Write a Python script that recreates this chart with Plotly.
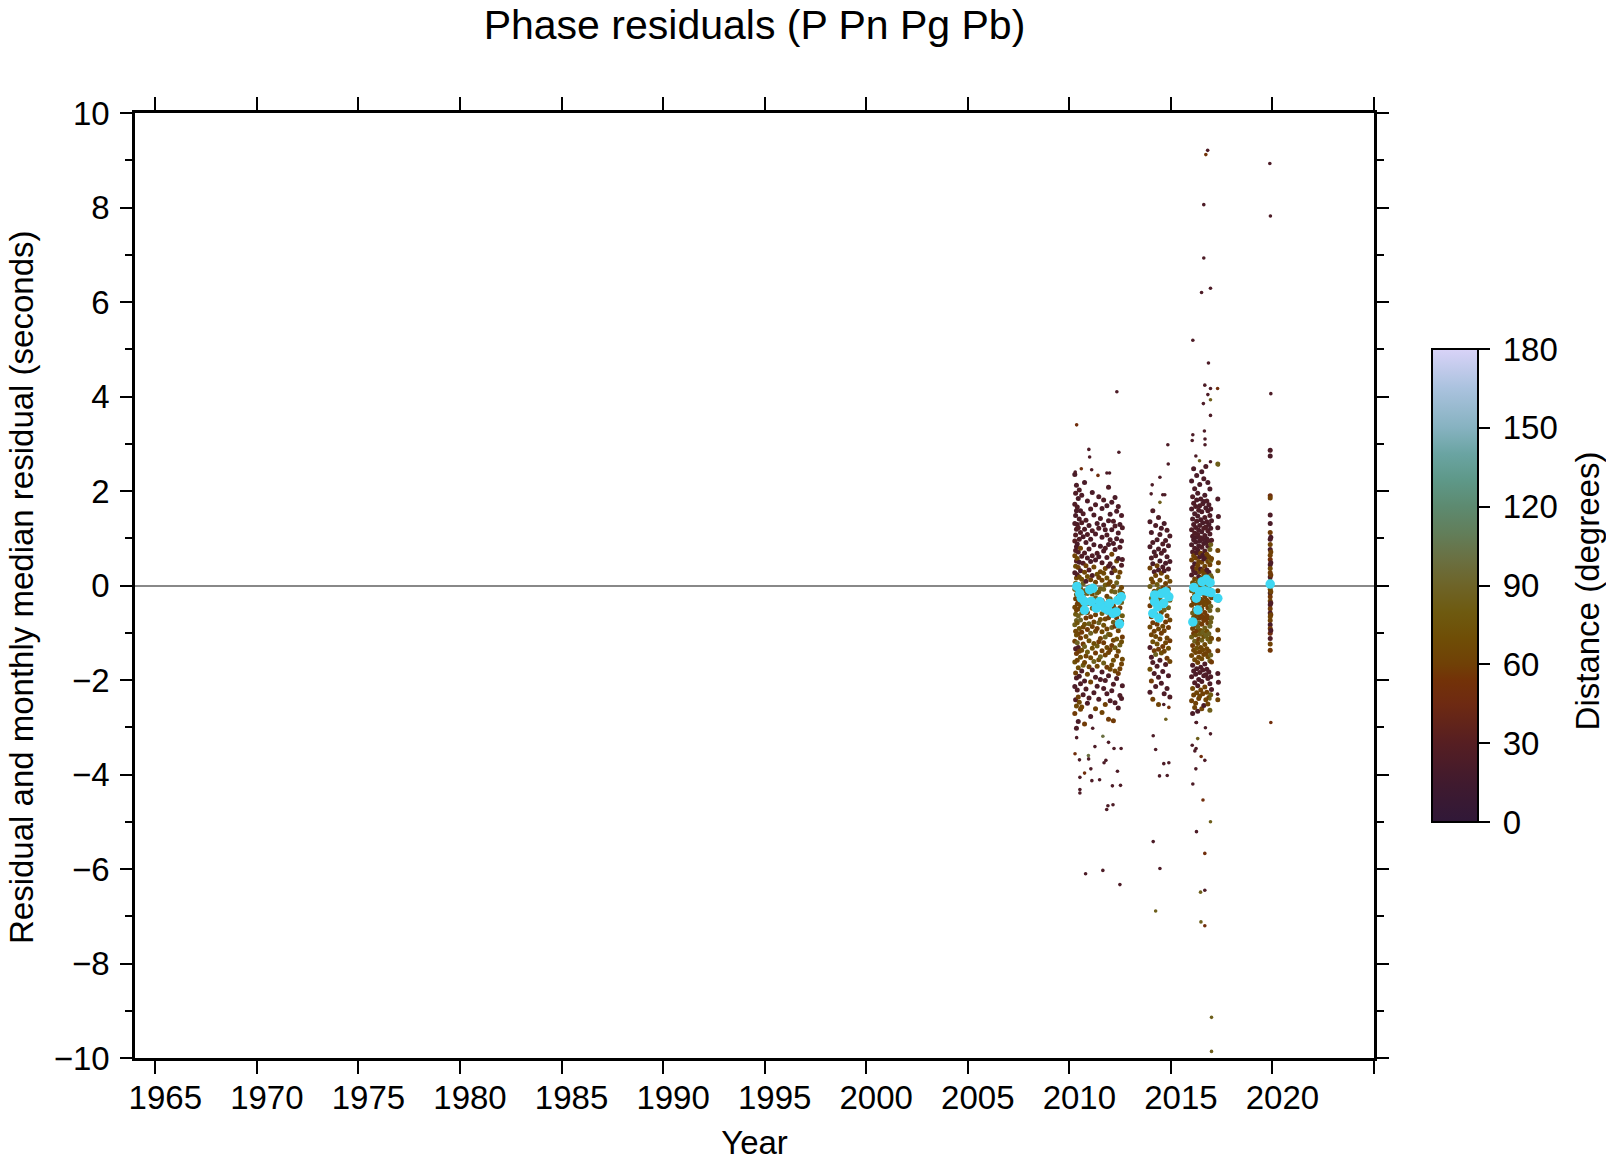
import plotly.graph_objects as go

# ---------------- data ----------------
# Cluster 1 (2010-2012): event times, residuals per event, distances per pick
c1_time = [2010.27, 2010.31, 2010.35, 2010.39, 2010.44, 2010.49, 2010.55, 2010.61, 2010.68, 2010.75,
           2010.82, 2010.89, 2010.97, 2011.05, 2011.13, 2011.21, 2011.29, 2011.37, 2011.45, 2011.53,
           2011.61, 2011.69, 2011.77, 2011.85, 2011.93, 2012.01, 2012.09, 2012.17, 2012.25, 2012.33,
           2012.41, 2012.49, 2012.57, 2012.61]
c1_res = [
    [2.35, 1.72, 1.31, 0.94, 0.63, 0.27, -0.08, -0.46, -0.83, -1.18, -1.62, -2.14, -2.71],
    [1.95, 1.48, 1.07, 0.74, 0.41, 0.05, -0.28, -0.61, -0.97, -1.34, -1.85, -2.42],
    [2.12, 1.58, 1.19, 0.82, 0.52, 0.16, -0.19, -0.52, -0.74, -1.05, -1.44, -1.96, -2.55, -3.02],
    [1.66, 1.29, 0.88, 0.57, 0.23, -0.12, -0.39, -0.79, -1.21, -1.58, -2.21],
    [1.84, 1.22, 0.71, 0.38, 0.02, -0.33, -0.64, -1.02, -1.31, -1.74, -2.36, -2.88],
    [2.02, 1.41, 0.98, 0.49, 0.18, -0.22, -0.49, -0.91, -1.39, -1.92, -2.47],
    [1.58, 1.12, 0.79, 0.31, -0.06, -0.42, -0.73, -1.11, -1.52, -2.08, -2.62],
    [1.91, 1.33, 0.62, 0.13, -0.27, -0.58, -0.99, -1.37, -1.81, -2.57],
    [1.52, 1.03, 0.47, 0.04, -0.21, -0.53, -0.88, -1.24, -1.69, -2.31],
    [2.18, 1.19, 0.69, 0.28, -0.11, -0.44, -0.82, -1.29, -1.63, -2.02, -2.93],
    [1.38, 0.91, 0.42, 0.09, -0.31, -0.69, -1.08, -1.49, -2.19],
    [1.79, 1.08, 0.58, 0.19, -0.17, -0.57, -0.93, -1.41, -1.88, -2.49],
    [1.27, 0.77, 0.33, -0.03, -0.38, -0.81, -1.17, -1.72, -2.38],
    [1.62, 0.98, 0.51, 0.12, -0.29, -0.66, -1.01, -1.53, -2.04, -2.77],
    [1.97, 1.16, 0.63, 0.21, -0.18, -0.48, -0.87, -1.33, -1.79],
    [1.49, 0.86, 0.39, -0.09, -0.41, -0.77, -1.23, -1.61, -2.27],
    [1.71, 1.09, 0.54, 0.07, -0.26, -0.62, -0.97, -1.43, -1.94, -2.61],
    [1.31, 0.68, 0.24, -0.16, -0.51, -0.91, -1.28, -1.71, -2.13],
    [1.88, 1.21, 0.61, 0.17, -0.13, -0.46, -0.79, -1.19, -1.57, -2.41],
    [1.42, 0.83, 0.29, -0.07, -0.37, -0.72, -1.12, -1.51, -1.99],
    [1.63, 1.02, 0.48, 0.11, -0.32, -0.59, -0.98, -1.38, -1.83, -2.69],
    [1.81, 1.28, 0.73, 0.26, -0.08, -0.47, -0.84, -1.21, -1.64, -2.18],
    [1.18, 0.79, 0.36, 0.01, -0.39, -0.71, -1.09, -1.47, -2.01, -2.52],
    [1.69, 1.07, 0.59, 0.16, -0.23, -0.56, -0.92, -1.31, -1.73, -2.29],
    [2.08, 1.37, 0.87, 0.41, 0.03, -0.31, -0.68, -1.03, -1.42, -1.91, -2.83],
    [1.51, 0.97, 0.46, 0.08, -0.28, -0.63, -1.04, -1.36, -1.77, -2.44],
    [1.76, 1.18, 0.66, 0.27, -0.12, -0.52, -0.89, -1.27, -1.68, -2.23],
    [1.36, 0.89, 0.37, -0.02, -0.43, -0.78, -1.16, -1.58, -2.09, -2.86],
    [1.86, 1.26, 0.76, 0.32, -0.14, -0.49, -0.86, -1.32, -1.81, -2.48],
    [1.57, 0.99, 0.52, 0.06, -0.33, -0.69, -1.13, -1.49, -1.97],
    [1.67, 1.11, 0.57, 0.18, -0.24, -0.61, -0.96, -1.39, -1.86, -2.59],
    [1.29, 0.81, 0.28, -0.11, -0.47, -0.86, -1.26, -1.76, -2.33],
    [1.48, 0.94, 0.43, -0.04, -0.36, -0.76, -1.19, -1.66, -2.39],
    [1.22, 0.55, -0.17, -0.64, -1.09, -1.56, -2.12],
]
c1_dist = [
    [22, 25, 24, 30, 62, 24, 80, 64, 85, 60, 72, 24, 58],
    [25, 22, 28, 25, 70, 86, 60, 78, 64, 24, 60, 26],
    [24, 22, 26, 24, 28, 65, 84, 62, 90, 70, 58, 25, 66, 24],
    [26, 24, 22, 66, 25, 82, 60, 74, 88, 62, 25],
    [22, 28, 25, 62, 78, 58, 86, 64, 25, 70, 60, 22],
    [25, 24, 26, 22, 64, 84, 60, 72, 58, 24, 66],
    [22, 25, 60, 24, 80, 62, 90, 58, 70, 25, 60],
    [24, 26, 25, 70, 62, 84, 58, 66, 24, 62],
    [25, 22, 28, 86, 60, 72, 64, 58, 80, 25],
    [22, 24, 25, 64, 84, 60, 70, 86, 62, 24, 58],
    [25, 24, 60, 22, 78, 58, 66, 62, 25],
    [24, 26, 22, 70, 86, 62, 58, 80, 64, 24],
    [22, 25, 28, 64, 60, 84, 70, 62, 25],
    [25, 24, 22, 60, 80, 58, 88, 64, 62, 24],
    [22, 25, 26, 24, 66, 84, 60, 72, 25],
    [24, 22, 64, 80, 58, 62, 70, 86, 24],
    [25, 24, 22, 62, 84, 60, 66, 58, 25, 60],
    [22, 26, 70, 86, 62, 58, 80, 64, 24],
    [24, 25, 22, 60, 78, 62, 90, 58, 66, 25],
    [25, 22, 64, 84, 60, 70, 62, 86, 24],
    [22, 24, 26, 62, 58, 80, 66, 60, 25, 62],
    [25, 22, 24, 66, 86, 60, 72, 58, 84, 24],
    [24, 25, 62, 80, 58, 64, 88, 62, 25, 60],
    [22, 26, 24, 70, 60, 84, 62, 66, 58, 24],
    [25, 24, 22, 28, 64, 80, 60, 86, 62, 24, 58],
    [22, 25, 26, 62, 84, 58, 70, 60, 64, 25],
    [24, 22, 60, 25, 80, 62, 88, 58, 66, 24],
    [25, 24, 22, 64, 60, 84, 62, 70, 25, 58],
    [22, 25, 24, 62, 86, 60, 58, 80, 64, 24],
    [24, 22, 66, 84, 62, 58, 72, 60, 25],
    [25, 24, 22, 70, 60, 86, 62, 64, 58, 24],
    [22, 26, 62, 80, 58, 64, 84, 60, 25],
    [24, 22, 25, 64, 86, 60, 70, 62, 24],
    [25, 24, 62, 80, 58, 66, 24],
]

# Cluster 2 (2014-2015)
c2_time = [2013.97, 2014.04, 2014.11, 2014.18, 2014.25, 2014.32, 2014.39, 2014.46, 2014.53, 2014.60,
           2014.67, 2014.74, 2014.81, 2014.88, 2014.95]
c2_res = [
    [1.35, 0.82, 0.37, -0.02, -0.43, -0.88, -1.31, -1.77, -2.26],
    [1.12, 0.58, 0.14, -0.27, -0.66, -1.04, -1.52, -2.02],
    [1.58, 0.91, 0.46, 0.07, -0.34, -0.79, -1.19, -1.63, -2.41],
    [0.71, 0.29, -0.12, -0.54, -0.97, -1.38, -1.86],
    [1.27, 0.63, 0.21, -0.19, -0.61, -1.08, -1.46, -2.14],
    [0.97, 0.42, 0.02, -0.38, -0.82, -1.24, -1.71],
    [1.44, 0.77, 0.33, -0.08, -0.49, -0.92, -1.35, -1.94, -2.52],
    [1.08, 0.52, 0.11, -0.29, -0.71, -1.13, -1.58],
    [1.21, 0.68, 0.26, -0.16, -0.57, -1.01, -1.43, -2.07],
    [0.88, 0.39, -0.05, -0.44, -0.86, -1.29, -1.82],
    [1.31, 0.74, 0.31, -0.11, -0.52, -0.96, -1.39, -2.29],
    [0.95, 0.47, 0.04, -0.36, -0.77, -1.21, -1.67],
    [1.17, 0.61, 0.18, -0.23, -0.64, -1.11, -1.54, -2.18],
    [0.84, 0.35, -0.07, -0.47, -0.89, -1.33, -1.91],
    [1.05, 0.51, 0.09, -0.31, -0.73, -1.17, -1.61, -2.36],
]
c2_dist = [
    [24, 22, 60, 82, 58, 64, 25, 70, 24],
    [22, 25, 66, 84, 60, 62, 24, 58],
    [25, 24, 22, 62, 86, 58, 70, 25, 60],
    [22, 24, 64, 80, 60, 58, 24],
    [24, 25, 62, 84, 58, 66, 88, 25],
    [22, 60, 80, 62, 58, 70, 24],
    [25, 24, 22, 86, 60, 64, 58, 24, 62],
    [24, 22, 64, 82, 58, 62, 25],
    [22, 25, 60, 84, 62, 58, 70, 24],
    [25, 24, 62, 80, 64, 58, 24],
    [22, 24, 25, 66, 86, 60, 62, 24],
    [24, 22, 60, 84, 58, 64, 25],
    [25, 24, 64, 80, 60, 62, 58, 24],
    [22, 25, 62, 86, 58, 70, 24],
    [24, 22, 66, 80, 62, 58, 64, 25],
]

# Cluster 3 (2016-2017)
c3_time = [2016.02, 2016.07, 2016.12, 2016.17, 2016.22, 2016.27, 2016.32, 2016.37, 2016.42, 2016.47,
           2016.52, 2016.57, 2016.62, 2016.67, 2016.72, 2016.77, 2016.82, 2016.87, 2016.92, 2016.96,
           2017.00, 2017.31, 2017.34]
c3_res = [
    [2.21, 1.62, 1.18, 0.86, 0.54, 0.22, -0.11, -0.42, -0.76, -1.09, -1.48, -1.93, -2.44],
    [1.88, 1.41, 1.04, 0.71, 0.38, 0.06, -0.27, -0.58, -0.91, -1.27, -1.69, -2.18, -2.71],
    [2.47, 1.74, 1.29, 0.97, 0.63, 0.31, -0.02, -0.34, -0.67, -1.01, -1.37, -1.81, -2.32],
    [2.05, 1.52, 1.11, 0.79, 0.46, 0.14, -0.19, -0.51, -0.84, -1.18, -1.57, -2.06, -2.58],
    [1.67, 1.23, 0.92, 0.58, 0.27, -0.06, -0.38, -0.71, -1.05, -1.42, -1.88, -2.49],
    [2.33, 1.81, 1.36, 1.02, 0.69, 0.36, 0.03, -0.31, -0.63, -0.96, -1.33, -1.76, -2.27],
    [1.95, 1.47, 1.08, 0.75, 0.43, 0.11, -0.23, -0.55, -0.88, -1.23, -1.63, -2.12, -2.66],
    [1.59, 1.17, 0.84, 0.51, 0.19, -0.14, -0.46, -0.79, -1.14, -1.52, -1.99, -2.39],
    [2.14, 1.69, 1.27, 0.94, 0.61, 0.29, -0.04, -0.37, -0.69, -1.03, -1.41, -1.84, -2.34],
    [1.83, 1.39, 1.01, 0.68, 0.35, 0.02, -0.29, -0.62, -0.95, -1.31, -1.73, -2.21],
    [2.41, 1.56, 1.14, 0.81, 0.49, 0.16, -0.17, -0.49, -0.82, -1.16, -1.55, -2.03, -2.61],
    [1.73, 1.33, 0.98, 0.64, 0.32, -0.01, -0.33, -0.66, -0.99, -1.36, -1.79, -2.29],
    [2.26, 1.78, 1.21, 0.89, 0.56, 0.24, -0.09, -0.41, -0.74, -1.08, -1.46, -1.91, -2.54],
    [1.91, 1.44, 1.06, 0.73, 0.41, 0.08, -0.24, -0.57, -0.90, -1.25, -1.66, -2.15],
    [2.52, 1.64, 1.24, 0.91, 0.59, 0.26, -0.07, -0.39, -0.72, -1.06, -1.44, -1.89, -2.42],
    [1.79, 1.35, 0.99, 0.66, 0.33, 0.01, -0.31, -0.64, -0.97, -1.34, -1.77, -2.26],
    [2.18, 1.58, 1.16, 0.83, 0.51, 0.18, -0.14, -0.47, -0.80, -1.13, -1.51, -1.97, -2.51],
    [1.71, 1.29, 0.94, 0.61, 0.28, -0.04, -0.36, -0.69, -1.02, -1.39, -1.83, -2.37],
    [2.04, 1.48, 1.09, 0.76, 0.44, 0.12, -0.21, -0.53, -0.86, -1.19, -1.59, -2.08, -2.64],
    [1.62, 1.21, 0.87, 0.53, 0.21, -0.12, -0.44, -0.77, -1.11, -1.47, -1.93, -2.31],
    [1.37, 0.96, 0.57, 0.17, -0.26, -0.68, -1.12, -1.62, -2.20],
    [2.57, 1.83, 1.22, 0.74, 0.31, -0.11, -0.52, -0.94, -1.38, -1.86, -2.42],
    [1.46, 0.48, -0.31, -1.14, -2.05],
]
c3_dist = [
    [22, 24, 25, 22, 60, 24, 80, 62, 58, 84, 64, 25, 60],
    [25, 22, 24, 26, 28, 70, 62, 86, 60, 58, 24, 66, 22],
    [22, 25, 24, 22, 62, 25, 84, 60, 72, 58, 62, 24, 60],
    [24, 22, 26, 24, 22, 64, 80, 62, 58, 86, 66, 25, 62],
    [25, 24, 22, 60, 25, 82, 62, 58, 70, 64, 24, 60],
    [22, 24, 25, 22, 26, 62, 86, 60, 64, 58, 72, 24, 62],
    [24, 22, 25, 24, 60, 80, 62, 58, 84, 66, 60, 25, 22],
    [25, 24, 22, 62, 25, 70, 60, 86, 58, 64, 24, 60],
    [22, 25, 24, 22, 24, 64, 84, 62, 58, 80, 60, 25, 62],
    [24, 22, 25, 60, 22, 86, 62, 58, 70, 64, 24, 60],
    [22, 24, 22, 25, 62, 70, 80, 60, 58, 84, 66, 24, 62],
    [25, 22, 24, 22, 60, 84, 62, 58, 86, 64, 25, 60],
    [24, 22, 25, 24, 22, 64, 80, 62, 58, 70, 60, 24, 22],
    [22, 25, 24, 26, 62, 86, 60, 58, 84, 66, 24, 60],
    [24, 22, 25, 22, 24, 62, 80, 64, 58, 86, 60, 25, 62],
    [25, 24, 22, 60, 25, 84, 62, 58, 70, 64, 24, 60],
    [22, 24, 25, 24, 62, 70, 86, 60, 58, 80, 66, 25, 62],
    [24, 22, 25, 62, 22, 84, 62, 58, 86, 60, 24, 60],
    [22, 25, 24, 86, 60, 88, 80, 84, 90, 82, 86, 24, 84],
    [24, 22, 84, 82, 86, 80, 88, 84, 82, 86, 24, 80],
    [22, 25, 62, 84, 60, 86, 64, 58, 24],
    [84, 24, 22, 62, 80, 60, 86, 64, 58, 24, 62],
    [24, 62, 84, 60, 25],
]

# Cluster 4 (late 2019)
c4_time = [2019.89, 2019.92]
c4_res = [
    [2.86, 2.74, 1.90, 1.85, 1.49, 1.31, 1.12, 0.98, 0.87, 0.76, 0.64, 0.55, 0.44, 0.36, 0.27, 0.18,
     0.09, 0.01, -0.08, -0.16, -0.24, -0.33, -0.41, -0.49, -0.58, -0.66, -0.74, -0.83, -0.91, -1.01,
     -1.12, -1.24, -1.37],
    [1.02, 0.71, 0.48, 0.22, -0.13, -0.37, -0.62, -0.95],
]
c4_dist = [
    [24, 22, 48, 60, 24, 22, 58, 25, 62, 24, 60, 52, 22, 64, 58, 25, 62, 24, 60, 22, 56, 62, 25, 58,
     24, 64, 60, 22, 58, 48, 25, 62, 56],
    [22, 60, 24, 58, 62, 25, 60, 24],
]

# Isolated picks (outliers)
out_year = [2016.81, 2016.72, 2019.87, 2016.62, 2019.90, 2016.62, 2016.95, 2016.51, 2016.08, 2016.85,
            2016.67, 2016.95, 2017.30, 2012.34, 2019.92, 2016.82, 2016.95, 2016.60, 2016.95, 2010.36,
            2010.96, 2011.00, 2012.44, 2011.10, 2010.59, 2011.85, 2011.98, 2011.41, 2010.29, 2014.85,
            2014.87, 2014.46, 2014.08, 2014.60, 2014.70, 2014.03, 2014.46, 2016.08, 2016.65, 2016.68,
            2016.68, 2016.05, 2016.23, 2016.41, 2016.95, 2017.33,
            2010.36, 2010.28, 2010.50, 2010.95, 2011.06, 2010.52, 2010.75, 2011.11, 2011.49, 2010.52,
            2010.52, 2012.12, 2012.52, 2012.37, 2011.90, 2012.15, 2011.84, 2010.80, 2011.65, 2012.49,
            2011.65, 2011.93, 2012.20, 2012.55, 2011.26, 2010.94, 2011.71, 2011.80, 2011.15, 2014.13,
            2014.25, 2014.65, 2014.90, 2014.44, 2014.13, 2014.46, 2014.25, 2014.75, 2014.65, 2014.90,
            2016.24, 2016.26, 2016.32, 2016.05, 2016.24, 2016.18, 2016.67, 2016.49, 2016.23, 2016.08,
            2016.58, 2016.95, 2016.26, 2016.67, 2016.67, 2016.46, 2016.48, 2016.67, 2017.00, 2017.00,
            2016.70, 2016.95, 2016.92, 2017.30, 2019.92, 2014.82]
out_res = [9.21, 9.12, 8.93, 8.06, 7.82, 6.93, 6.29, 6.20, 5.19, 4.71,
           4.24, 4.17, 4.17, 4.10, 4.06, 4.04, 3.93, 3.85, 3.60, 3.40,
           2.88, 2.72, 2.82, 2.45, 2.47, 2.38, 2.38, 2.33, 2.40, 2.98,
           2.57, 2.29, 2.13, 1.92, 1.92, 1.94, 1.76, 3.19, 3.27, 3.10,
           2.98, 3.07, 2.74, 2.64, 2.62, 2.55,
           -3.22, -3.56, -3.69, -3.67, -3.88, -4.06, -3.97, -4.13, -4.11, -4.32,
           -4.39, -4.24, -4.23, -3.93, -4.66, -4.64, -4.74, -6.10, -6.03, -6.33,
           -3.19, -3.32, -3.45, -3.45, -3.41, -3.60, -3.75, -3.70, -3.02, -3.18,
           -3.47, -3.77, -3.75, -4.03, -5.42, -5.99, -6.89, -2.83, -2.52, -2.58,
           -2.90, -2.90, -3.24, -3.38, -3.45, -3.50, -3.70, -3.62, -3.88, -4.20,
           -4.54, -5.00, -5.21, -5.67, -6.45, -6.49, -7.12, -7.20, -9.14, -9.86,
           -3.01, -3.14, -2.40, -2.30, -2.90, -4.02]
out_dist = [24, 55, 24, 24, 24, 24, 24, 24, 24, 24,
            24, 24, 50, 24, 24, 24, 85, 24, 24, 50,
            24, 24, 24, 24, 50, 24, 24, 50, 24, 24,
            24, 24, 24, 24, 24, 24, 85, 24, 24, 24,
            24, 24, 24, 85, 24, 85,
            24, 50, 24, 24, 24, 24, 50, 24, 24, 24,
            24, 24, 24, 24, 24, 24, 24, 24, 24, 24,
            100, 24, 24, 24, 24, 100, 24, 24, 24, 24,
            24, 24, 24, 24, 24, 24, 85, 85, 24, 50,
            24, 24, 85, 24, 24, 24, 24, 50, 24, 24,
            50, 85, 24, 50, 24, 85, 85, 50, 85, 85,
            24, 24, 85, 24, 50, 24]

# Monthly median residuals
med_year = [2010.37, 2010.51, 2010.59, 2010.75, 2010.75, 2011.00, 2011.16, 2011.08, 2011.33, 2011.49,
            2011.57, 2011.74, 2011.90, 2011.98, 2012.15, 2012.31, 2012.39, 2012.56, 2012.47,
            2014.11, 2014.20, 2014.20, 2014.36, 2014.41, 2014.53, 2014.64, 2014.74, 2014.90,
            2016.08, 2016.13, 2016.25, 2016.33, 2016.41, 2016.54, 2016.65, 2016.74, 2016.82, 2016.93,
            2016.98, 2017.31, 2019.89]
med_res = [-0.02, -0.17, -0.27, -0.34, -0.52, -0.09, -0.06, -0.34, -0.48, -0.34,
           -0.41, -0.48, -0.52, -0.38, -0.59, -0.56, -0.31, -0.24, -0.81,
           -0.59, -0.20, -0.34, -0.45, -0.69, -0.17, -0.38, -0.13, -0.24,
           -0.77, -0.04, -0.27, -0.52, -0.13, 0.08, -0.11, 0.13, -0.13, 0.06,
           -0.15, -0.27, 0.03]

x_ticks = [1965, 1970, 1975, 1980, 1985, 1990, 1995, 2000, 2005, 2010, 2015, 2020, 2025]
x_labels = ["1965", "1970", "1975", "1980", "1985", "1990", "1995", "2000", "2005", "2010", "2015", "2020", ""]
cb_ticks = [0, 30, 60, 90, 120, 150, 180]

# ---------------- build flat arrays ----------------
px, py, pd_ = [], [], []
for times, res, dist in [(c1_time, c1_res, c1_dist), (c2_time, c2_res, c2_dist),
                         (c3_time, c3_res, c3_dist), (c4_time, c4_res, c4_dist)]:
    for t, rr, dd in zip(times, res, dist):
        for r, d in zip(rr, dd):
            px.append(t); py.append(r); pd_.append(d)

colorscale = [
    [0.000, "#301838"], [0.083, "#401a2e"], [0.167, "#561e22"], [0.250, "#6e2a12"],
    [0.300, "#733208"], [0.333, "#704006"], [0.389, "#6f4e06"], [0.444, "#6e5a10"],
    [0.500, "#6e6428"], [0.556, "#6a7042"], [0.611, "#627e5a"], [0.667, "#5d8a70"],
    [0.722, "#5e9888"], [0.778, "#6aa4a2"], [0.833, "#86b2c0"], [0.917, "#aac2de"],
    [1.000, "#d9d3f8"],
]

FONT = "Liberation Sans, Arial, Helvetica, sans-serif"
W, H = 1606, 1161
L, R, T, B = 135, 1374.5, 113.3, 1057.7   # plot-area edges in page pixels
pw, ph = R - L, B - T

fig = go.Figure()
fig.add_trace(go.Scatter(
    x=px, y=py, mode="markers", hoverinfo="skip",
    marker=dict(size=5, color=pd_, colorscale=colorscale, cmin=0, cmax=180,
                line=dict(width=0), showscale=True,
                colorbar=dict(
                    thickness=46, thicknessmode="pixels", len=0.5, lenmode="fraction",
                    x=(1433 - L) / pw, xanchor="left", xpad=0, y=0.5, yanchor="middle", ypad=0,
                    outlinewidth=2, outlinecolor="black",
                    tickvals=cb_ticks, ticktext=["\u2009" + str(v) for v in cb_ticks],
                    ticks="outside", ticklen=11, tickwidth=1.5, tickcolor="black",
                    tickfont=dict(family=FONT, size=33, color="black"),
                )),
))
fig.add_trace(go.Scatter(
    x=out_year, y=out_res, mode="markers", hoverinfo="skip",
    marker=dict(size=3.6, color=out_dist, colorscale=colorscale, cmin=0, cmax=180,
                line=dict(width=0), showscale=False),
))
fig.add_trace(go.Scatter(
    x=med_year, y=med_res, mode="markers", hoverinfo="skip",
    marker=dict(size=9.5, color="#3fd7f2", line=dict(width=0)),
))

fig.add_annotation(text="Distance (degrees)", textangle=-90, showarrow=False,
                   xref="paper", yref="paper", x=(1588 - L) / pw, y=(B - 591) / ph,
                   xanchor="center", yanchor="middle",
                   font=dict(family=FONT, size=33, color="black"))
fig.add_annotation(text="Residual and monthly median residual (seconds)", textangle=-90, showarrow=False,
                   xref="paper", yref="paper", x=(21 - L) / pw, y=(B - 587) / ph,
                   xanchor="center", yanchor="middle",
                   font=dict(family=FONT, size=33, color="black"))

fig.update_layout(
    width=W, height=H,
    margin=dict(l=L, r=W - R, t=T, b=H - B, autoexpand=False),
    paper_bgcolor="white", plot_bgcolor="white", showlegend=False,
    font=dict(family=FONT, size=33, color="black"),
    title=dict(text="Phase residuals (P Pn Pg Pb)", x=0.5, xref="paper", xanchor="center",
               y=1 - 25 / H, yref="container", yanchor="middle",
               font=dict(family=FONT, size=41, color="black")),
)
fig.update_xaxes(
    range=[1964, 2025], tickvals=x_ticks, ticktext=x_labels,
    ticks="outside", ticklen=13, tickwidth=1.8, tickcolor="black",
    showline=True, linewidth=2.5, linecolor="black", mirror="ticks",
    showgrid=False, zeroline=False, ticklabelstandoff=-4, ticklabelshift=10,
    tickfont=dict(family=FONT, size=33),
    title=dict(text="Year", font=dict(family=FONT, size=33), standoff=20),
)
fig.update_yaxes(
    range=[-10, 10], tickvals=[-10, -8, -6, -4, -2, 0, 2, 4, 6, 8, 10],
    ticks="outside", ticklen=12, tickwidth=1.8, tickcolor="black",
    minor=dict(dtick=1, ticks="outside", ticklen=7, tickwidth=1.5, tickcolor="black", showgrid=False),
    showline=True, linewidth=2.5, linecolor="black", mirror="ticks",
    showgrid=False, zeroline=True, zerolinecolor="#888888", zerolinewidth=1.5,
    ticklabelstandoff=4,
    tickfont=dict(family=FONT, size=33),
)

fig.write_html("out.html", config={"displayModeBar": False},
               post_script="document.body.style.margin='0';document.body.style.padding='0';")
